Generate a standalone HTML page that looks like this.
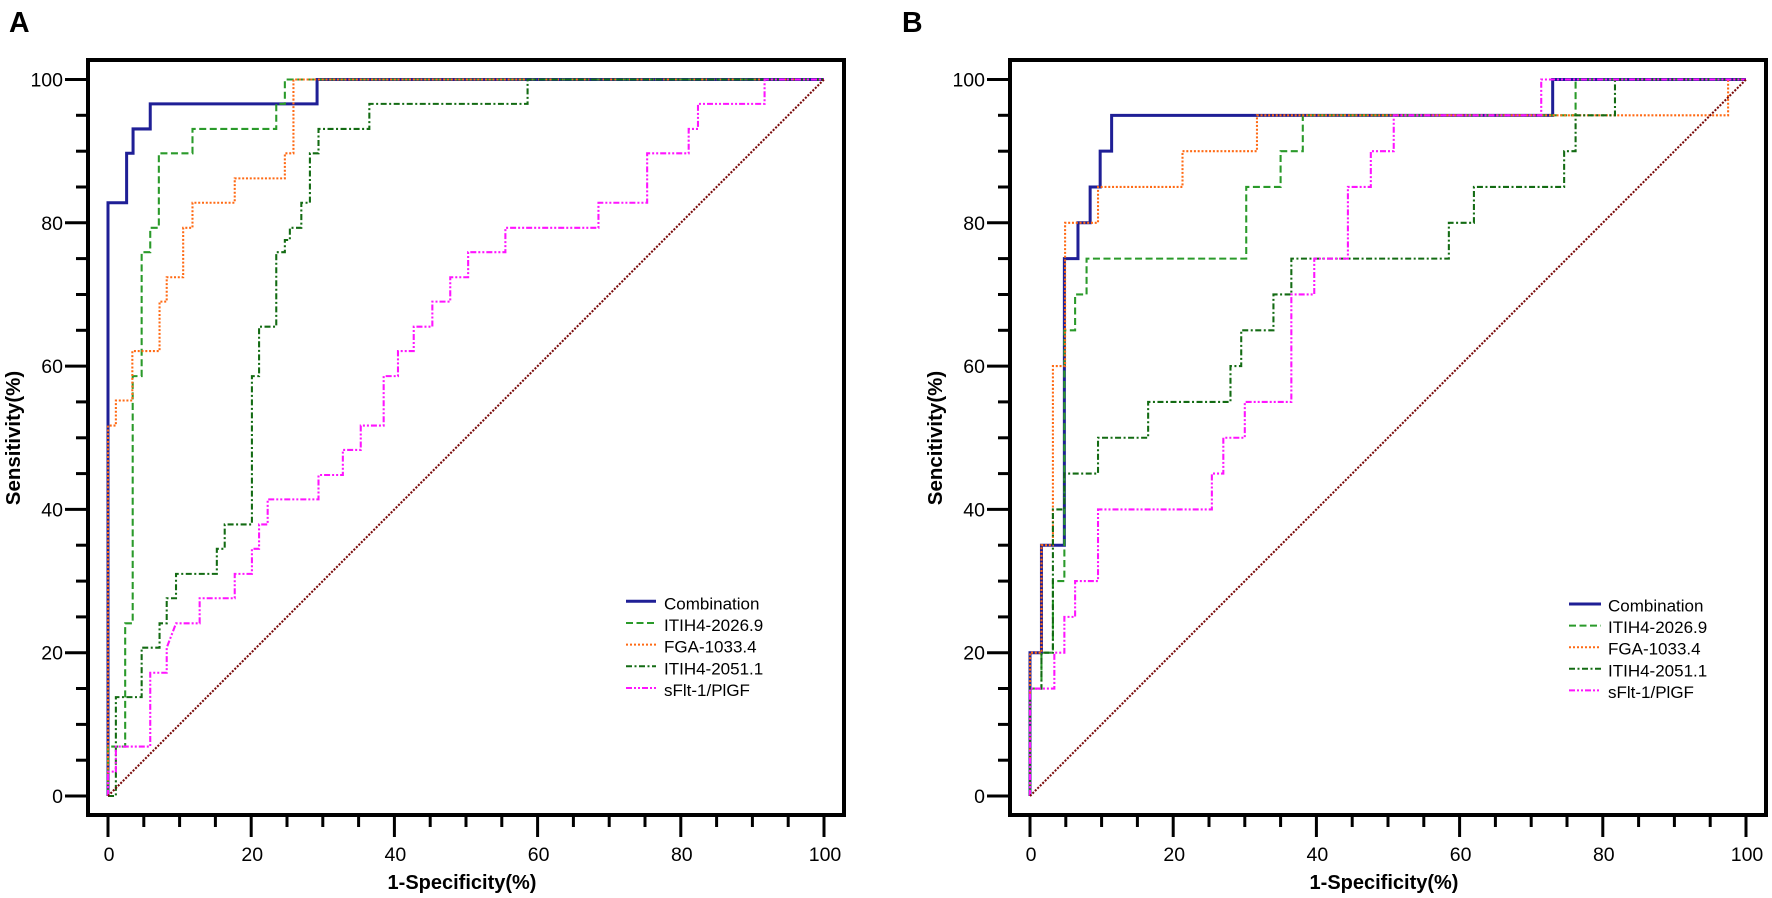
<!DOCTYPE html>
<html>
<head>
<meta charset="utf-8">
<style>
  html,body{margin:0;padding:0;background:#fff;}
  svg{display:block;}
  text{font-family:"Liberation Sans",Arial,sans-serif;fill:#000;}
</style>
</head>
<body>
<svg width="1772" height="898" viewBox="0 0 1772 898" xmlns="http://www.w3.org/2000/svg">
  <rect width="1772" height="898" fill="#fff"/>

  <!-- Panel labels -->
  <text x="9" y="32" font-size="28.5" font-weight="bold">A</text>
  <text x="902" y="32" font-size="28.5" font-weight="bold">B</text>

  <!-- ================= PANEL A ================= -->
  <g id="axesA">
    <g transform="translate(108,796) scale(7.16,-7.165)" fill="none" stroke-linejoin="miter">
      <path d="M0 0V82.8H2.6V89.7H3.5V93.1H5.9V96.6H29.2V100H100" stroke="#1f1f96" stroke-width="0.42"/>
      <path d="M0 0V6.9H2.4V24.1H3.45V58.6H4.7V75.9H5.9V79.3H7.1V89.7H11.8V93.1H23.5V96.6H24.7V100H100" stroke="#2a9a2a" stroke-width="0.29" stroke-dasharray="0.98 0.49"/>
      <path d="M0 0V51.7H1.1V55.2H3.4V62.1H7.2V69H8.2V72.4H10.5V79.3H11.8V82.8H17.7V86.2H24.7V89.7H25.9V100H100" stroke="#ff6a14" stroke-width="0.29" stroke-dasharray="0.28 0.25"/>
      <path d="M0 0H1.1V13.8H4.7V20.7H7.2V24.1H8.2V27.6H9.5V31H15.2V34.5H16.3V37.9H20.1V58.6H21.1V65.5H23.5V75.9H24.7V77.6H25.4V79.3H27V82.8H28.2V89.7H29.4V93.1H36.5V96.6H58.6V100H100" stroke="#136b13" stroke-width="0.29" stroke-dasharray="0.84 0.35 0.28 0.35"/>
      <path d="M0 0V3.4H1.1V6.9H5.9V17.2H8.2V20.7L9.5 24.1H12.8V27.6H17.7V31H20.1V34.5H21.1V37.9H22.3V41.4H29.4V44.8H32.8V48.3H35.3V51.7H38.5V58.6H40.5V62.1H42.7V65.5H45.3V69H47.8V72.4H50.3V75.9H55.5V79.3H68.5V82.8H75.3V89.7H81.1V93.1H82.4V96.6H91.7V100H100" stroke="#ff14ff" stroke-width="0.29" stroke-dasharray="0.84 0.28 0.28 0.28 0.28 0.28"/>
      <path d="M0 0L100 100" stroke="#7a0a0a" stroke-width="0.29" stroke-dasharray="0.28 0.21"/>
    </g>

    <rect x="88" y="60" width="756" height="755" fill="none" stroke="#000" stroke-width="4"/>

    <g stroke="#000" stroke-width="3">
      <line x1="65" y1="796" x2="88" y2="796"/>
      <line x1="76" y1="760.2" x2="88" y2="760.2"/>
      <line x1="76" y1="724.4" x2="88" y2="724.4"/>
      <line x1="76" y1="688.5" x2="88" y2="688.5"/>
      <line x1="65" y1="652.7" x2="88" y2="652.7"/>
      <line x1="76" y1="616.9" x2="88" y2="616.9"/>
      <line x1="76" y1="581.1" x2="88" y2="581.1"/>
      <line x1="76" y1="545.2" x2="88" y2="545.2"/>
      <line x1="65" y1="509.4" x2="88" y2="509.4"/>
      <line x1="76" y1="473.6" x2="88" y2="473.6"/>
      <line x1="76" y1="437.8" x2="88" y2="437.8"/>
      <line x1="76" y1="401.9" x2="88" y2="401.9"/>
      <line x1="65" y1="366.1" x2="88" y2="366.1"/>
      <line x1="76" y1="330.3" x2="88" y2="330.3"/>
      <line x1="76" y1="294.5" x2="88" y2="294.5"/>
      <line x1="76" y1="258.6" x2="88" y2="258.6"/>
      <line x1="65" y1="222.8" x2="88" y2="222.8"/>
      <line x1="76" y1="187" x2="88" y2="187"/>
      <line x1="76" y1="151.2" x2="88" y2="151.2"/>
      <line x1="76" y1="115.3" x2="88" y2="115.3"/>
      <line x1="65" y1="79.5" x2="88" y2="79.5"/>
    </g>
    <g stroke="#000" stroke-width="3">
      <line x1="108" y1="815" x2="108" y2="837"/>
      <line x1="143.8" y1="815" x2="143.8" y2="827"/>
      <line x1="179.6" y1="815" x2="179.6" y2="827"/>
      <line x1="215.4" y1="815" x2="215.4" y2="827"/>
      <line x1="251.2" y1="815" x2="251.2" y2="837"/>
      <line x1="287" y1="815" x2="287" y2="827"/>
      <line x1="322.8" y1="815" x2="322.8" y2="827"/>
      <line x1="358.6" y1="815" x2="358.6" y2="827"/>
      <line x1="394.4" y1="815" x2="394.4" y2="837"/>
      <line x1="430.2" y1="815" x2="430.2" y2="827"/>
      <line x1="466" y1="815" x2="466" y2="827"/>
      <line x1="501.8" y1="815" x2="501.8" y2="827"/>
      <line x1="537.6" y1="815" x2="537.6" y2="837"/>
      <line x1="573.4" y1="815" x2="573.4" y2="827"/>
      <line x1="609.2" y1="815" x2="609.2" y2="827"/>
      <line x1="645" y1="815" x2="645" y2="827"/>
      <line x1="680.8" y1="815" x2="680.8" y2="837"/>
      <line x1="716.6" y1="815" x2="716.6" y2="827"/>
      <line x1="752.4" y1="815" x2="752.4" y2="827"/>
      <line x1="788.2" y1="815" x2="788.2" y2="827"/>
      <line x1="824" y1="815" x2="824" y2="837"/>
    </g>
    <g font-size="19.5" text-anchor="end">
      <text x="63" y="803">0</text>
      <text x="63" y="659.7">20</text>
      <text x="63" y="516.4">40</text>
      <text x="63" y="373.1">60</text>
      <text x="63" y="229.8">80</text>
      <text x="63" y="86.5">100</text>
    </g>
    <g font-size="19.5" text-anchor="middle">
      <text x="109" y="861">0</text>
      <text x="252.2" y="861">20</text>
      <text x="395.4" y="861">40</text>
      <text x="538.6" y="861">60</text>
      <text x="681.8" y="861">80</text>
      <text x="825" y="861">100</text>
    </g>
    <text x="462" y="889" font-size="20" font-weight="bold" text-anchor="middle">1-Specificity(%)</text>
    <text transform="translate(20,438) rotate(-90)" font-size="20.5" font-weight="bold" text-anchor="middle">Sensitivity(%)</text>
  </g>

  <!-- Legend A -->
  <g fill="none">
    <line x1="626" y1="601.3" x2="656" y2="601.3" stroke="#1f1f96" stroke-width="3"/>
    <line x1="626" y1="623" x2="656" y2="623" stroke="#2a9a2a" stroke-width="2" stroke-dasharray="7 3.5"/>
    <line x1="626" y1="644.6" x2="656" y2="644.6" stroke="#ff6a14" stroke-width="2" stroke-dasharray="2 2"/>
    <line x1="626" y1="666.3" x2="656" y2="666.3" stroke="#136b13" stroke-width="2" stroke-dasharray="6 2.5 2 2.5"/>
    <line x1="626" y1="688" x2="656" y2="688" stroke="#ff14ff" stroke-width="2" stroke-dasharray="6 2 2 2 2 2"/>
  </g>
  <g font-size="17">
    <text x="664" y="609.3">Combination</text>
    <text x="664" y="631">ITIH4-2026.9</text>
    <text x="664" y="652.6">FGA-1033.4</text>
    <text x="664" y="674.3">ITIH4-2051.1</text>
    <text x="664" y="696">sFlt-1/PlGF</text>
  </g>

  <!-- ================= PANEL B ================= -->
  <g transform="translate(922,0)">
    <g transform="translate(108,796) scale(7.16,-7.165)" fill="none" stroke-linejoin="miter">
      <path d="M0 0V20H1.6V35H4.8V75H6.7V80H8.4V85H9.8V90H11.4V95H73V100H100" stroke="#1f1f96" stroke-width="0.42"/>
      <path d="M0 0V15H1.6V20H3.2V30H4.8V65H6.3V70H7.9V75H30.2V85H35V90H38.1V95H76.2V100H100" stroke="#2a9a2a" stroke-width="0.29" stroke-dasharray="0.98 0.49"/>
      <path d="M0 0V20H1.6V35H3.2V60H4.9V80H9.5V85H21.3V90H31.7V95H97.5V100H100" stroke="#ff6a14" stroke-width="0.29" stroke-dasharray="0.28 0.25"/>
      <path d="M0 0V15H1.6V20H3.2V40H4.8V45H9.5V50H16.5V55H28V60H29.5V65H34V70H36.5V75H58.5V80H62V85H74.6V90H76.2V95H81.7V100H100" stroke="#136b13" stroke-width="0.29" stroke-dasharray="0.84 0.35 0.28 0.35"/>
      <path d="M0 0V15H3.4V20H4.8V25H6.3V30H9.5V40H25.4V45H27V50H30V55H36.5V70H39.7V75H44.4V85H47.6V90H50.8V95H71.4V100H100" stroke="#ff14ff" stroke-width="0.29" stroke-dasharray="0.84 0.28 0.28 0.28 0.28 0.28"/>
      <path d="M0 0L100 100" stroke="#7a0a0a" stroke-width="0.29" stroke-dasharray="0.28 0.21"/>
    </g>

    <rect x="88" y="60" width="756" height="755" fill="none" stroke="#000" stroke-width="4"/>

    <g stroke="#000" stroke-width="3">
      <line x1="65" y1="796" x2="88" y2="796"/>
      <line x1="76" y1="760.2" x2="88" y2="760.2"/>
      <line x1="76" y1="724.4" x2="88" y2="724.4"/>
      <line x1="76" y1="688.5" x2="88" y2="688.5"/>
      <line x1="65" y1="652.7" x2="88" y2="652.7"/>
      <line x1="76" y1="616.9" x2="88" y2="616.9"/>
      <line x1="76" y1="581.1" x2="88" y2="581.1"/>
      <line x1="76" y1="545.2" x2="88" y2="545.2"/>
      <line x1="65" y1="509.4" x2="88" y2="509.4"/>
      <line x1="76" y1="473.6" x2="88" y2="473.6"/>
      <line x1="76" y1="437.8" x2="88" y2="437.8"/>
      <line x1="76" y1="401.9" x2="88" y2="401.9"/>
      <line x1="65" y1="366.1" x2="88" y2="366.1"/>
      <line x1="76" y1="330.3" x2="88" y2="330.3"/>
      <line x1="76" y1="294.5" x2="88" y2="294.5"/>
      <line x1="76" y1="258.6" x2="88" y2="258.6"/>
      <line x1="65" y1="222.8" x2="88" y2="222.8"/>
      <line x1="76" y1="187" x2="88" y2="187"/>
      <line x1="76" y1="151.2" x2="88" y2="151.2"/>
      <line x1="76" y1="115.3" x2="88" y2="115.3"/>
      <line x1="65" y1="79.5" x2="88" y2="79.5"/>
    </g>
    <g stroke="#000" stroke-width="3">
      <line x1="108" y1="815" x2="108" y2="837"/>
      <line x1="143.8" y1="815" x2="143.8" y2="827"/>
      <line x1="179.6" y1="815" x2="179.6" y2="827"/>
      <line x1="215.4" y1="815" x2="215.4" y2="827"/>
      <line x1="251.2" y1="815" x2="251.2" y2="837"/>
      <line x1="287" y1="815" x2="287" y2="827"/>
      <line x1="322.8" y1="815" x2="322.8" y2="827"/>
      <line x1="358.6" y1="815" x2="358.6" y2="827"/>
      <line x1="394.4" y1="815" x2="394.4" y2="837"/>
      <line x1="430.2" y1="815" x2="430.2" y2="827"/>
      <line x1="466" y1="815" x2="466" y2="827"/>
      <line x1="501.8" y1="815" x2="501.8" y2="827"/>
      <line x1="537.6" y1="815" x2="537.6" y2="837"/>
      <line x1="573.4" y1="815" x2="573.4" y2="827"/>
      <line x1="609.2" y1="815" x2="609.2" y2="827"/>
      <line x1="645" y1="815" x2="645" y2="827"/>
      <line x1="680.8" y1="815" x2="680.8" y2="837"/>
      <line x1="716.6" y1="815" x2="716.6" y2="827"/>
      <line x1="752.4" y1="815" x2="752.4" y2="827"/>
      <line x1="788.2" y1="815" x2="788.2" y2="827"/>
      <line x1="824" y1="815" x2="824" y2="837"/>
    </g>
    <g font-size="19.5" text-anchor="end">
      <text x="63" y="803">0</text>
      <text x="63" y="659.7">20</text>
      <text x="63" y="516.4">40</text>
      <text x="63" y="373.1">60</text>
      <text x="63" y="229.8">80</text>
      <text x="63" y="86.5">100</text>
    </g>
    <g font-size="19.5" text-anchor="middle">
      <text x="109" y="861">0</text>
      <text x="252.2" y="861">20</text>
      <text x="395.4" y="861">40</text>
      <text x="538.6" y="861">60</text>
      <text x="681.8" y="861">80</text>
      <text x="825" y="861">100</text>
    </g>
    <text x="462" y="889" font-size="20" font-weight="bold" text-anchor="middle">1-Specificity(%)</text>
    <text transform="translate(20,438) rotate(-90)" font-size="20.5" font-weight="bold" text-anchor="middle">Sencitivity(%)</text>
  </g>

  <!-- Legend B -->
  <g fill="none">
    <line x1="1569" y1="604" x2="1601" y2="604" stroke="#1f1f96" stroke-width="3"/>
    <line x1="1569" y1="625.6" x2="1601" y2="625.6" stroke="#2a9a2a" stroke-width="2" stroke-dasharray="7 3.5"/>
    <line x1="1569" y1="647.2" x2="1601" y2="647.2" stroke="#ff6a14" stroke-width="2" stroke-dasharray="2 2"/>
    <line x1="1569" y1="668.8" x2="1601" y2="668.8" stroke="#136b13" stroke-width="2" stroke-dasharray="6 2.5 2 2.5"/>
    <line x1="1569" y1="690.4" x2="1601" y2="690.4" stroke="#ff14ff" stroke-width="2" stroke-dasharray="6 2 2 2 2 2"/>
  </g>
  <g font-size="17">
    <text x="1608" y="611.5">Combination</text>
    <text x="1608" y="633.1">ITIH4-2026.9</text>
    <text x="1608" y="654.7">FGA-1033.4</text>
    <text x="1608" y="676.3">ITIH4-2051.1</text>
    <text x="1608" y="697.9">sFlt-1/PlGF</text>
  </g>
</svg>
</body>
</html>
